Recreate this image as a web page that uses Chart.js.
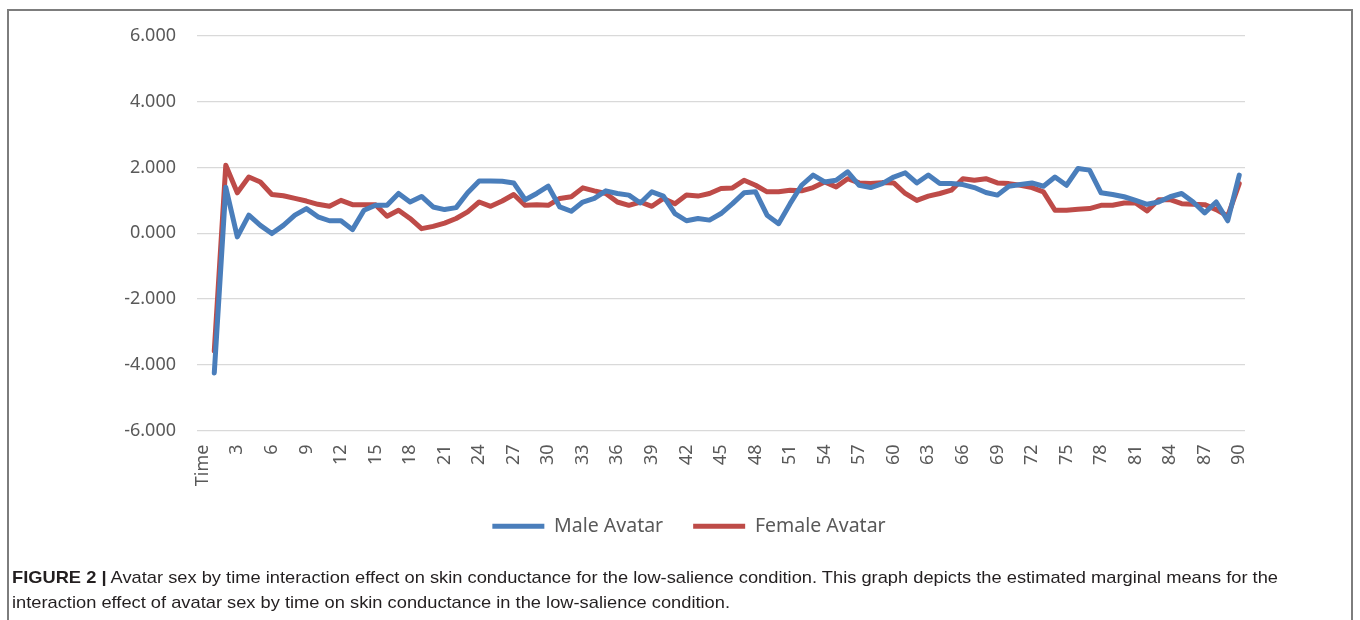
<!DOCTYPE html>
<html>
<head>
<meta charset="utf-8">
<script src="https://cdn.jsdelivr.net/npm/chart.js@4.4.1/dist/chart.umd.min.js"></script>
<style>
  html, body { margin: 0; padding: 0; background: #ffffff; overflow: hidden; width: 1360px; height: 620px; }
  #frame { position: absolute; left: 7px; top: 9px; width: 1346px; height: 700px; border: 2px solid #7d7d7d; box-sizing: border-box; }
  #chartBox { position: absolute; left: 0; top: 0; width: 1360px; height: 580px; }
  #caption { position: absolute; left: 12px; top: 565px; font-family: "Liberation Sans", Arial, sans-serif; font-size: 17px; line-height: 25px; color: #231f20; white-space: nowrap; transform-origin: 0 0; }
  #caption span { display: inline-block; }
  #caption b { font-weight: bold; }
</style>
</head>
<body>
<div id="frame"></div>
<div id="chartBox"><canvas id="c" width="1360" height="580"></canvas></div>
<div id="caption"><span id="cap1"><b>FIGURE 2 |</b> Avatar sex by time interaction effect on skin conductance for the low-salience condition. This graph depicts the estimated marginal means for the</span><br><span>interaction effect of avatar sex by time on skin conductance in the low-salience condition.</span></div>
<script>
const categories = ['Time',
  '1','2','3','4','5','6','7','8','9','10',
  '11','12','13','14','15','16','17','18','19','20',
  '21','22','23','24','25','26','27','28','29','30',
  '31','32','33','34','35','36','37','38','39','40',
  '41','42','43','44','45','46','47','48','49','50',
  '51','52','53','54','55','56','57','58','59','60',
  '61','62','63','64','65','66','67','68','69','70',
  '71','72','73','74','75','76','77','78','79','80',
  '81','82','83','84','85','86','87','88','89','90'];

const tickLabels = ['Time','3','6','9','12','15','18','21','24','27','30','33','36','39','42','45',
  '48','51','54','57','60','63','66','69','72','75','78','81','84','87','90'];

const maleAvatar = [null,
  -4.25, 1.40, -0.11, 0.55, 0.24, -0.01, 0.24, 0.55, 0.75, 0.50,
  0.38, 0.38, 0.11, 0.70, 0.85, 0.85, 1.21, 0.95, 1.12, 0.80,
  0.72, 0.78, 1.23, 1.59, 1.59, 1.58, 1.53, 1.02, 1.21, 1.43,
  0.80, 0.67, 0.95, 1.06, 1.29, 1.21, 1.16, 0.92, 1.26, 1.13,
  0.60, 0.38, 0.45, 0.40, 0.60, 0.90, 1.23, 1.26, 0.55, 0.29,
  0.90, 1.46, 1.77, 1.56, 1.61, 1.87, 1.46, 1.39, 1.51, 1.71,
  1.84, 1.53, 1.77, 1.51, 1.51, 1.48, 1.39, 1.24, 1.16, 1.43,
  1.48, 1.53, 1.43, 1.71, 1.46, 1.97, 1.92, 1.23, 1.18, 1.11,
  1.00, 0.88, 0.95, 1.11, 1.21, 0.95, 0.62, 0.95, 0.38, 1.77];

const femaleAvatar = [null,
  -3.58, 2.07, 1.23, 1.71, 1.56, 1.18, 1.14, 1.06, 0.98, 0.88,
  0.82, 1.00, 0.87, 0.87, 0.87, 0.52, 0.70, 0.45, 0.14, 0.21,
  0.31, 0.45, 0.65, 0.95, 0.82, 0.98, 1.18, 0.85, 0.87, 0.85,
  1.06, 1.11, 1.38, 1.29, 1.21, 0.95, 0.85, 0.95, 0.82, 1.06,
  0.90, 1.16, 1.13, 1.21, 1.36, 1.38, 1.61, 1.46, 1.26, 1.26,
  1.31, 1.29, 1.39, 1.56, 1.41, 1.66, 1.53, 1.51, 1.54, 1.53,
  1.21, 1.00, 1.13, 1.21, 1.31, 1.66, 1.61, 1.66, 1.53, 1.51,
  1.46, 1.39, 1.26, 0.70, 0.70, 0.73, 0.75, 0.85, 0.85, 0.92,
  0.92, 0.68, 1.02, 1.02, 0.90, 0.88, 0.87, 0.72, 0.52, 1.51];

const yTicks = [-6, -4, -2, 0, 2, 4, 6];

const tickFont = { family: "'Noto Sans', 'Open Sans', sans-serif", size: 18 };
const lineStyle = { borderWidth: 5, pointRadius: 0, pointHoverRadius: 0, tension: 0,
  borderCapStyle: 'round', borderJoinStyle: 'round', spanGaps: false, fill: false };

const legendCenterX = 689;
const shiftLegend = {
  id: 'shiftLegend',
  afterLayout(chart) {
    const lg = chart.legend;
    if (!lg) return;
    const dx = legendCenterX - (lg.left + lg.right) / 2;
    lg.left += dx; lg.right += dx;
  }
};

new Chart(document.getElementById('c'), {
  type: 'line',
  data: {
    labels: categories,
    datasets: [
      Object.assign({ label: 'Male Avatar', data: maleAvatar, borderColor: '#4A7EBB', backgroundColor: '#4A7EBB' }, lineStyle),
      Object.assign({ label: 'Female Avatar', data: femaleAvatar, borderColor: '#BE4B48', backgroundColor: '#BE4B48' }, lineStyle)
    ]
  },
  plugins: [shiftLegend],
  options: {
    responsive: false,
    animation: false,
    devicePixelRatio: 1,
    layout: { padding: { left: 10, right: 115, top: 36, bottom: 34 } },
    plugins: {
      tooltip: { enabled: false },
      legend: {
        position: 'bottom',
        labels: {
          usePointStyle: true,
          pointStyle: 'line',
          pointStyleWidth: 52,
          padding: 30,
          color: '#595959',
          font: { family: "'Noto Sans', 'Open Sans', sans-serif", size: 19.5 }
        }
      }
    },
    scales: {
      x: {
        type: 'category',
        offset: true,
        grid: { display: false, drawTicks: false },
        border: { display: false },
        ticks: {
          autoSkip: false,
          maxRotation: 90,
          minRotation: 90,
          padding: 14,
          color: '#595959',
          font: tickFont,
          callback: function (value, index) {
            const lab = categories[index];
            return tickLabels.includes(lab) ? lab : '';
          }
        },
        afterFit: function (scale) { scale.height = 56; }
      },
      y: {
        min: yTicks[0],
        max: yTicks[yTicks.length - 1],
        afterBuildTicks: function (scale) { scale.ticks = yTicks.map(v => ({ value: v })); },
        grid: { color: '#d9d9d9', lineWidth: 1.3, drawTicks: false },
        border: { display: false },
        ticks: {
          padding: 21,
          color: '#595959',
          font: tickFont,
          callback: function (value) { return Number(value).toFixed(3); }
        },
        afterFit: function (scale) { scale.width = 187; }
      }
    }
  }
});

(function fitCaption() {
  const cap = document.getElementById('caption');
  const w = document.getElementById('cap1').getBoundingClientRect().width;
  if (w > 0) cap.style.transform = 'scaleX(' + (1266 / w) + ')';
})();
</script>
</body>
</html>
